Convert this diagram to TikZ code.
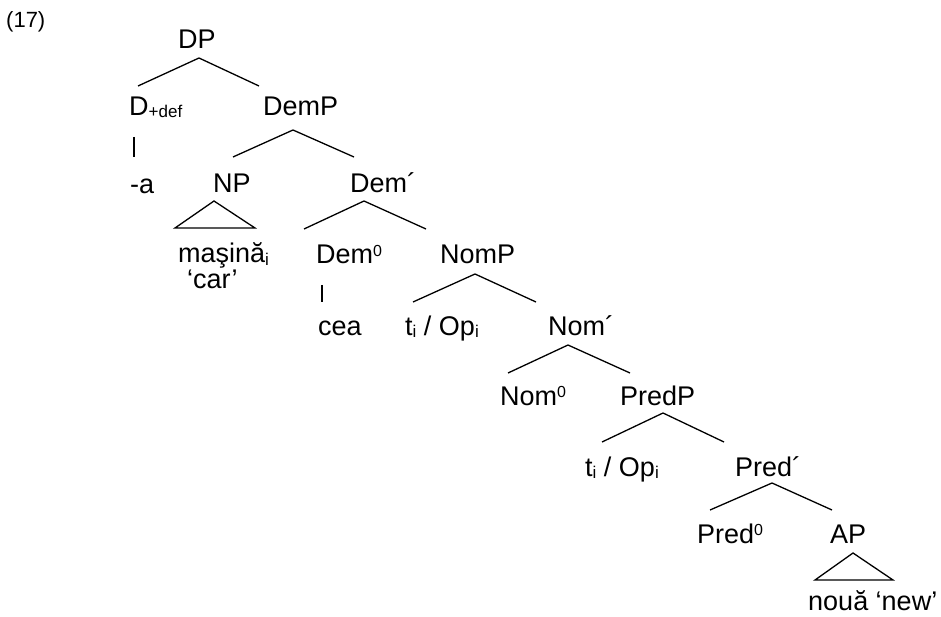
\documentclass[tikz,border=0pt]{standalone}
\usepackage{fontspec}
\setmainfont{Liberation Sans}
\newcommand{\lsub}[1]{\raisebox{-2pt}{\fontsize{17}{19}\selectfont #1}}
\newcommand{\lsup}[1]{\raisebox{7.5pt}{\fontsize{16}{18}\selectfont #1}}
\begin{document}
\begin{tikzpicture}[x=1pt,y=-1pt,
  lbl/.style={anchor=base west,inner sep=0pt,font=\fontsize{27}{32}\selectfont},
  edge/.style={line width=1.3pt}]
\useasboundingbox (0,0) rectangle (941,617);
\node[anchor=base west,inner sep=0pt,font=\fontsize{22}{26}\selectfont] (num) at (6,28) {(17)};
\node[lbl] (DP) at (178,49) {DP};
\node[lbl] (D) at (129,116) {D\lsub{+def}};
\node[lbl] (DemP) at (263,116) {DemP};
\node[lbl] (a) at (130,194) {-a};
\node[lbl] (NP) at (213,193) {NP};
\node[lbl] (Dembar) at (350,193) {Dem´};
\node[lbl] (masina) at (178,263) {maşină\lsub{i}};
\node[lbl] (car) at (187,288) {‘car’};
\node[lbl] (Dem0) at (316,264) {Dem\lsup{0}};
\node[lbl] (NomP) at (440,264) {NomP};
\node[lbl] (cea) at (318,335) {cea};
\node[lbl] (tA) at (405,335) {t\lsub{i} / Op\lsub{i}};
\node[lbl] (Nombar) at (548,335) {Nom´};
\node[lbl] (Nom0) at (500,405) {Nom\lsup{0}};
\node[lbl] (PredP) at (620,405) {PredP};
\node[lbl] (tB) at (585,476) {t\lsub{i} / Op\lsub{i}};
\node[lbl] (Predbar) at (735,476) {Pred´};
\node[lbl] (Pred0) at (697,543) {Pred\lsup{0}};
\node[lbl] (AP) at (830,543) {AP};
\node[lbl] (noua) at (808,610) {nouă ‘new’};
% DP
\draw[edge] ([shift={(9,-30)}]D.base west) -- ([shift={(21,9)}]DP.base west) -- ([shift={(-4,-30)}]DemP.base west);
\draw[edge] ([shift={(5,21)}]D.base west) -- ([shift={(4,-37)}]a.base west);
% DemP
\draw[edge] ([shift={(20,-36)}]NP.base west) -- ([shift={(30,14)}]DemP.base west) -- ([shift={(4,-36)}]Dembar.base west);
\draw[edge] ([shift={(1,8)}]NP.base west) -- ([shift={(-38,35)}]NP.base west) -- ([shift={(42,35)}]NP.base west) -- cycle;
% Dem'
\draw[edge] ([shift={(-12,-35)}]Dem0.base west) -- ([shift={(14,8)}]Dembar.base west) -- ([shift={(-14,-35)}]NomP.base west);
\draw[edge] ([shift={(6,21)}]Dem0.base west) -- ([shift={(4,-33)}]cea.base west);
% NomP
\draw[edge] ([shift={(8,-33)}]tA.base west) -- ([shift={(35,10)}]NomP.base west) -- ([shift={(-12,-33)}]Nombar.base west);
% Nom'
\draw[edge] ([shift={(8,-32)}]Nom0.base west) -- ([shift={(20,10)}]Nombar.base west) -- ([shift={(10,-32)}]PredP.base west);
% PredP
\draw[edge] ([shift={(17,-34)}]tB.base west) -- ([shift={(43,8)}]PredP.base west) -- ([shift={(-11,-34)}]Predbar.base west);
% Pred'
\draw[edge] ([shift={(13,-33)}]Pred0.base west) -- ([shift={(37,7)}]Predbar.base west) -- ([shift={(2,-33)}]AP.base west);
\draw[edge] ([shift={(23,10)}]AP.base west) -- ([shift={(-15,37)}]AP.base west) -- ([shift={(63,37)}]AP.base west) -- cycle;
\end{tikzpicture}
\end{document}
